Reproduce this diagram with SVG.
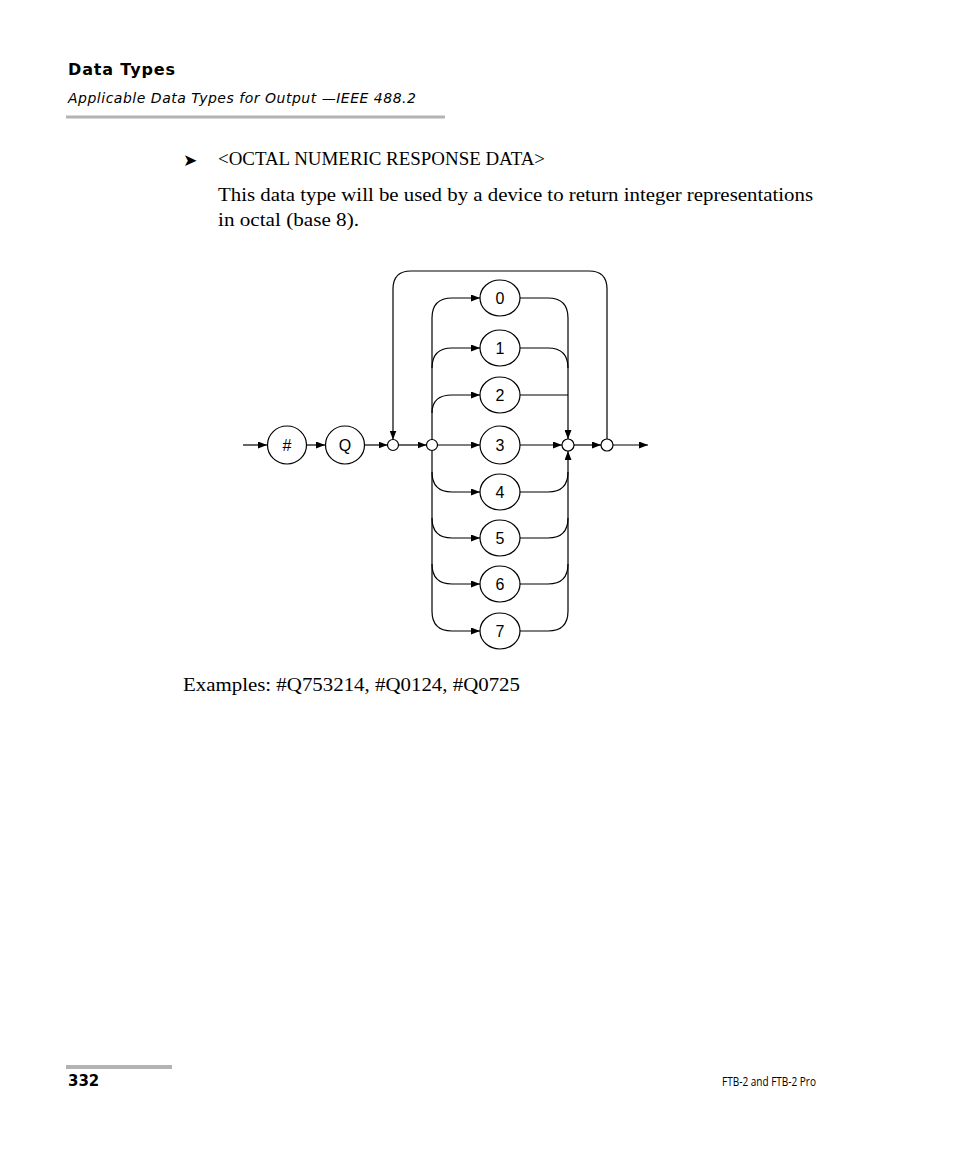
<svg xmlns="http://www.w3.org/2000/svg" width="954" height="1159" viewBox="0 0 954 1159">
<style>
.ln{fill:none;stroke:#000;stroke-width:1.2}
.nd{fill:#fff;stroke:#000;stroke-width:1.2}
.lbl{font-family:"Liberation Sans",Arial,sans-serif;font-size:16px;text-anchor:middle;fill:#000}
.serif{font-family:"Liberation Serif","Times New Roman",serif;font-size:18.5px;fill:#000}
.sans{font-family:"DejaVu Sans","Noto Sans",sans-serif;fill:#000}
</style>
<defs>
<marker id="ah" markerWidth="9" markerHeight="7" refX="9" refY="3.5" orient="auto" markerUnits="userSpaceOnUse">
<path d="M0,0 L9,3.5 L0,7 z" fill="#000"/>
</marker>
</defs>
<rect width="954" height="1159" fill="#fff"/>
<g id="header">
<text class="sans" x="68" y="75" font-size="16" font-weight="bold" textLength="107">Data Types</text>
<text class="sans" x="68" y="103" font-size="14" font-style="italic" textLength="348">Applicable Data Types for Output —IEEE 488.2</text>
<rect x="66" y="115.5" width="379" height="3" fill="#b3b3b3"/>
</g>
<g id="intro">
<text x="183" y="166" font-family="DejaVu Sans,sans-serif" font-size="17">➤</text>
<text class="serif" x="218" y="165" textLength="327" lengthAdjust="spacingAndGlyphs">&lt;OCTAL NUMERIC RESPONSE DATA&gt;</text>
<text class="serif" x="218" y="201" textLength="595" lengthAdjust="spacingAndGlyphs">This data type will be used by a device to return integer representations</text>
<text class="serif" x="218" y="226" textLength="141" lengthAdjust="spacingAndGlyphs">in octal (base 8).</text>
</g>
<g id="connectors">
<path class="ln" d="M243,445 H267" marker-end="url(#ah)"/>
<path class="ln" d="M306,445 H325" marker-end="url(#ah)"/>
<path class="ln" d="M365,445 H387.5" marker-end="url(#ah)"/>
<path class="ln" d="M398.5,445 H426.5" marker-end="url(#ah)"/>
<path class="ln" d="M437.5,445 H480" marker-end="url(#ah)"/>
<path class="ln" d="M520,445 H562" marker-end="url(#ah)"/>
<path class="ln" d="M574,445 H601" marker-end="url(#ah)"/>
<path class="ln" d="M613,445 H648" marker-end="url(#ah)"/>
<path class="ln" d="M607,439 V289 Q607,271 589,271 H411 Q393,271 393,289 V439.5" marker-end="url(#ah)"/>
<path class="ln" d="M432,318 V611"/>
<path class="ln" d="M432,318 Q432,298 452,298 H480" marker-end="url(#ah)"/>
<path class="ln" d="M432,368 Q432,348 452,348 H480" marker-end="url(#ah)"/>
<path class="ln" d="M432,413 Q432,395 452,395 H480" marker-end="url(#ah)"/>
<path class="ln" d="M432,472 Q432,492 452,492 H480" marker-end="url(#ah)"/>
<path class="ln" d="M432,518 Q432,538 452,538 H480" marker-end="url(#ah)"/>
<path class="ln" d="M432,564 Q432,584 452,584 H480" marker-end="url(#ah)"/>
<path class="ln" d="M432,611 Q432,631 452,631 H480" marker-end="url(#ah)"/>
<path class="ln" d="M520,298 H548 Q568,298 568,318 V439" marker-end="url(#ah)"/>
<path class="ln" d="M520,348 H548 Q568,348 568,368"/>
<path class="ln" d="M520,395 H568"/>
<path class="ln" d="M520,492 H548 Q568,492 568,472"/>
<path class="ln" d="M520,538 H548 Q568,538 568,518"/>
<path class="ln" d="M520,584 H548 Q568,584 568,564"/>
<path class="ln" d="M520,631 H548 Q568,631 568,611 V451" marker-end="url(#ah)"/>
</g>
<g id="node-hash"><ellipse class="nd" cx="287" cy="445" rx="19.5" ry="19"/><text class="lbl" x="287" y="451">#</text></g>
<g id="node-Q"><ellipse class="nd" cx="345" cy="445" rx="19.5" ry="19"/><text class="lbl" x="345" y="451">Q</text></g>
<g id="junction-1"><circle class="nd" cx="393" cy="445" r="5.5"/></g>
<g id="junction-2"><circle class="nd" cx="432" cy="445" r="5.5"/></g>
<g id="junction-3"><circle class="nd" cx="568" cy="445" r="6"/></g>
<g id="junction-4"><circle class="nd" cx="607" cy="445" r="6"/></g>
<g id="node-0"><ellipse class="nd" cx="500" cy="298" rx="20" ry="18"/><text class="lbl" x="500" y="304">0</text></g>
<g id="node-1"><ellipse class="nd" cx="500" cy="348" rx="20" ry="18"/><text class="lbl" x="500" y="354">1</text></g>
<g id="node-2"><ellipse class="nd" cx="500" cy="395" rx="20" ry="18"/><text class="lbl" x="500" y="401">2</text></g>
<g id="node-3"><ellipse class="nd" cx="500" cy="445" rx="20" ry="19"/><text class="lbl" x="500" y="451">3</text></g>
<g id="node-4"><ellipse class="nd" cx="500" cy="492" rx="20" ry="18"/><text class="lbl" x="500" y="498">4</text></g>
<g id="node-5"><ellipse class="nd" cx="500" cy="538" rx="20" ry="18"/><text class="lbl" x="500" y="544">5</text></g>
<g id="node-6"><ellipse class="nd" cx="500" cy="584" rx="20" ry="18"/><text class="lbl" x="500" y="590">6</text></g>
<g id="node-7"><ellipse class="nd" cx="500" cy="631" rx="20" ry="18"/><text class="lbl" x="500" y="637">7</text></g>
<g id="examples">
<text class="serif" x="183" y="691" textLength="337" lengthAdjust="spacingAndGlyphs">Examples: #Q753214, #Q0124, #Q0725</text>
</g>
<g id="footer">
<rect x="66" y="1065" width="106" height="4" fill="#b3b3b3"/>
<text class="sans" x="68" y="1086" font-size="15" font-weight="bold">332</text>
<text x="816" y="1086" font-family="Open Sans,Noto Sans,sans-serif" font-size="13" text-anchor="end" textLength="94" lengthAdjust="spacingAndGlyphs">FTB-2 and FTB-2 Pro</text>
</g>
</svg>
